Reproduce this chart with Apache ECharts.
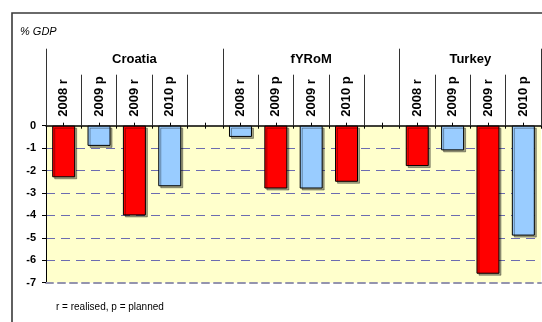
<!DOCTYPE html>
<html>
<head>
<meta charset="utf-8">
<script src="https://cdn.jsdelivr.net/npm/echarts@6/dist/echarts.min.js"></script>
<style>
  html, body { margin: 0; padding: 0; background: #fff; }
  #chart { width: 542px; height: 322px; }
</style>
</head>
<body>
<div id="chart"></div>
<script>
// Budget balance by country, % of GDP (r = realised, p = planned)
const countries = ['Croatia', 'fYRoM', 'Turkey'];
const periods = ['2008 r', '2009 p', '2009 r', '2010 p'];

// Red and light-blue bars, one row per country, aligned with `periods`
const redBars = [
  [-2.3, null, -4.0, null],
  [null, -2.8, null, -2.5],
  [-1.8, null, -6.6, null]
];
const blueBars = [
  [null, -0.9, null, -2.7],
  [-0.5, null, -2.8, null],
  [null, -1.1, null, -4.9]
];

const yMin = -7, yMax = 0, yStep = 1;
const unitLabel = '% GDP';
const noteText = 'r = realised, p = planned';

// Flatten into one category axis with an empty slot between countries
const slots = [], redData = [], blueData = [];
const groupEdges = [0], groupCenters = [];
countries.forEach((c, gi) => {
  const start = slots.length;
  periods.forEach((p, pi) => {
    slots.push(p);
    redData.push(redBars[gi][pi]);
    blueData.push(blueBars[gi][pi]);
  });
  if (gi < countries.length - 1) {
    slots.push('');
    redData.push(null);
    blueData.push(null);
  }
  groupEdges.push(slots.length);
  groupCenters.push((start + slots.length) / 2);
});
const nSlots = slots.length;
const halfSteps = [];
for (let i = 0; i <= nSlots * 2; i++) halfSteps.push(i / 2);

const FONT = '"Liberation Sans", Arial, sans-serif';
const tickGrey = '#333';

const chart = echarts.init(document.getElementById('chart'), null, { renderer: 'canvas' });

const barStyle = (color) => ({
  color: color,
  borderColor: '#000',
  borderWidth: 1,
  shadowColor: 'rgba(0,0,0,0.35)',
  shadowOffsetX: 2,
  shadowOffsetY: 2,
  shadowBlur: 0
});

chart.setOption({
  animation: false,
  backgroundColor: '#fff',
  textStyle: { fontFamily: FONT },
  graphic: [{
    type: 'rect',
    shape: { x: 12, y: 13, width: 600, height: 400 },
    style: { fill: 'none', stroke: '#3a3a3a', lineWidth: 1.6 },
    silent: true
  }],
  title: [
    {
      text: unitLabel, left: 20, top: 26, padding: 0,
      textStyle: { fontSize: 11, fontStyle: 'italic', fontWeight: 'normal', color: '#000', fontFamily: FONT }
    },
    {
      text: noteText, left: 56, top: 302, padding: 0,
      textStyle: { fontSize: 10, fontWeight: 'normal', color: '#000', fontFamily: FONT }
    }
  ],
  grid: {
    left: 46, right: 1, top: 125.7, bottom: 39.3,
    show: true, backgroundColor: '#FFFFCC', borderWidth: 0,
    containLabel: false
  },
  xAxis: [
    {
      // period labels + dividers between slots
      type: 'category', data: slots, position: 'top', boundaryGap: true,
      axisLine: { show: true, onZero: false, lineStyle: { color: '#000', width: 1.5 } },
      axisTick: { show: true, interval: 0, alignWithLabel: false, length: 51, lineStyle: { color: tickGrey, width: 1 } },
      axisLabel: { interval: 0, rotate: -90, margin: 9, fontSize: 13, fontWeight: 'bold', color: '#000', fontFamily: FONT },
      splitLine: { show: false }
    },
    {
      // country names + long dividers between countries
      type: 'value', min: 0, max: nSlots, position: 'top',
      axisLine: { show: false },
      axisTick: { show: true, customValues: groupEdges, length: 77, lineStyle: { color: tickGrey, width: 1 } },
      axisLabel: {
        show: true, customValues: groupCenters, margin: 60,
        fontSize: 13, fontWeight: 'bold', color: '#000', fontFamily: FONT,
        formatter: (v) => countries[groupCenters.indexOf(v)] || ''
      },
      splitLine: { show: false }
    },
    {
      // short ticks above the zero line at slot centres
      type: 'category', data: slots, position: 'top',
      axisLine: { show: false },
      axisTick: { show: true, interval: 0, alignWithLabel: true, length: 3, lineStyle: { color: '#000', width: 1 } },
      axisLabel: { show: false },
      splitLine: { show: false }
    },
    {
      // short ticks below the zero line
      type: 'value', min: 0, max: nSlots, position: 'top',
      axisLine: { show: false },
      axisTick: { show: true, inside: true, customValues: halfSteps, length: 3, lineStyle: { color: '#000', width: 1 } },
      axisLabel: { show: false },
      splitLine: { show: false }
    },
    {
      // dashed floor line
      type: 'value', min: 0, max: nSlots, position: 'bottom',
      axisLine: { show: true, onZero: false, lineStyle: { color: '#9494ae', width: 2, type: [7, 5] } },
      axisTick: { show: false },
      axisLabel: { show: false },
      splitLine: { show: false }
    }
  ],
  yAxis: {
    type: 'value', min: yMin, max: yMax, interval: yStep,
    axisLine: { show: true, onZero: false, lineStyle: { color: '#000', width: 1 } },
    axisTick: { show: true, length: 4, lineStyle: { color: '#000' } },
    axisLabel: { margin: 10, fontSize: 11, fontWeight: 'bold', color: '#000', fontFamily: FONT },
    splitLine: {
      show: true, showMinLine: false, showMaxLine: false,
      lineStyle: { color: '#6c6cb0', width: 1, type: [9, 6] }
    }
  },
  series: [
    {
      name: 'red', type: 'bar', xAxisIndex: 0, data: redData,
      barWidth: '65%', barGap: '-100%',
      itemStyle: barStyle('#FF0000')
    },
    {
      name: 'blue', type: 'bar', xAxisIndex: 0, data: blueData,
      barWidth: '65%', barGap: '-100%',
      itemStyle: barStyle('#99CCFF')
    }
  ]
});
</script>
</body>
</html>
